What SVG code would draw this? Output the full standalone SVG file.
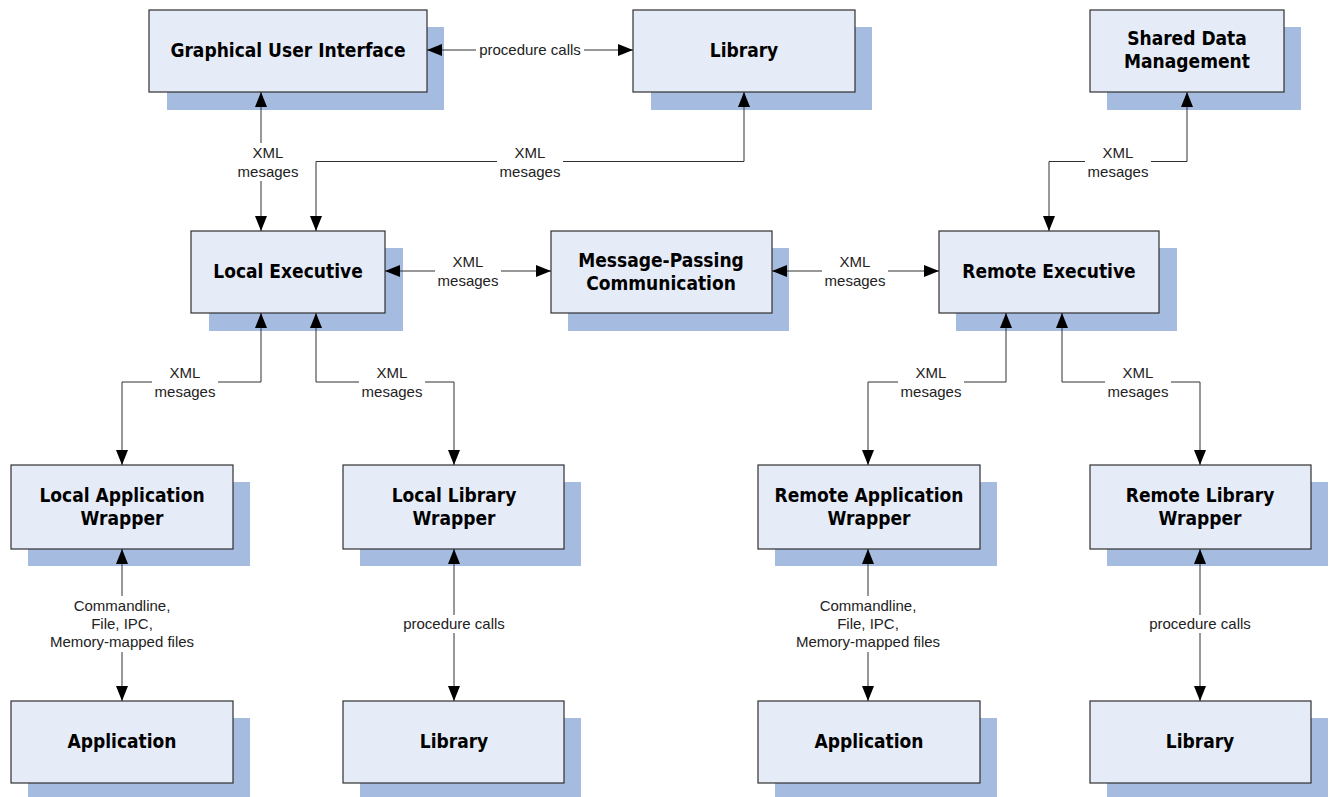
<svg xmlns="http://www.w3.org/2000/svg" width="1333" height="797" viewBox="0 0 1333 797">
<style>
.sh{fill:#A5BCE0;stroke:none}
.bx{fill:#E6ECF7;stroke:#303030;stroke-width:1.2}
.t{font-family:"DejaVu Sans Condensed","DejaVu Sans",sans-serif;font-stretch:condensed;font-weight:bold;font-size:19px;fill:#000;text-anchor:middle}
.c{fill:none;stroke:#303030;stroke-width:1}
.lb{font-family:"Liberation Sans",Arial,sans-serif;font-size:15px;fill:#222;text-anchor:middle}
.bg{fill:#fff;stroke:none}
</style>
<defs>
<marker id="ah" viewBox="0 0 15 12" refX="15" refY="6" markerWidth="15" markerHeight="12" markerUnits="userSpaceOnUse" orient="auto-start-reverse">
<path d="M0,0 L15,6 L0,12 z" fill="#000"/>
</marker>
</defs>
<rect width="1333" height="797" fill="#fff"/>

<g id="gui"><rect class="sh" x="167" y="27" width="277" height="83"/><rect class="bx" x="149" y="10" width="278" height="82"/><text class="t" x="288" y="57">Graphical User Interface</text></g>
<g id="library-top"><rect class="sh" x="651" y="27" width="221" height="83"/><rect class="bx" x="633" y="10" width="222" height="82"/><text class="t" x="744" y="57">Library</text></g>
<g id="shared-data"><rect class="sh" x="1107" y="27" width="194" height="83"/><rect class="bx" x="1090" y="10" width="194" height="82"/><text class="t" x="1187" y="45">Shared Data</text><text class="t" x="1187" y="68">Management</text></g>

<g id="local-exec"><rect class="sh" x="209" y="248" width="194" height="83"/><rect class="bx" x="191" y="231" width="194" height="82"/><text class="t" x="288" y="278">Local Executive</text></g>
<g id="mpc"><rect class="sh" x="568" y="248" width="221" height="83"/><rect class="bx" x="551" y="231" width="221" height="82"/><text class="t" x="661" y="267">Message-Passing</text><text class="t" x="661" y="290">Communication</text></g>
<g id="remote-exec"><rect class="sh" x="956" y="248" width="221" height="83"/><rect class="bx" x="939" y="231" width="220" height="82"/><text class="t" x="1049" y="278">Remote Executive</text></g>

<g id="local-app-wrapper"><rect class="sh" x="28" y="482" width="222" height="84"/><rect class="bx" x="11" y="465" width="222" height="84"/><text class="t" x="122" y="502">Local Application</text><text class="t" x="122" y="525">Wrapper</text></g>
<g id="local-lib-wrapper"><rect class="sh" x="360" y="482" width="221" height="84"/><rect class="bx" x="343" y="465" width="221" height="84"/><text class="t" x="454" y="502">Local Library</text><text class="t" x="454" y="525">Wrapper</text></g>
<g id="remote-app-wrapper"><rect class="sh" x="775" y="482" width="222" height="84"/><rect class="bx" x="758" y="465" width="222" height="84"/><text class="t" x="869" y="502">Remote Application</text><text class="t" x="869" y="525">Wrapper</text></g>
<g id="remote-lib-wrapper"><rect class="sh" x="1107" y="482" width="221" height="84"/><rect class="bx" x="1090" y="465" width="221" height="84"/><text class="t" x="1200" y="502">Remote Library</text><text class="t" x="1200" y="525">Wrapper</text></g>

<g id="application-local"><rect class="sh" x="28" y="718" width="222" height="84"/><rect class="bx" x="11" y="701" width="222" height="82"/><text class="t" x="122" y="748">Application</text></g>
<g id="library-local"><rect class="sh" x="360" y="718" width="221" height="84"/><rect class="bx" x="343" y="701" width="221" height="82"/><text class="t" x="454" y="748">Library</text></g>
<g id="application-remote"><rect class="sh" x="775" y="718" width="222" height="84"/><rect class="bx" x="758" y="701" width="222" height="82"/><text class="t" x="869" y="748">Application</text></g>
<g id="library-remote"><rect class="sh" x="1107" y="718" width="221" height="84"/><rect class="bx" x="1090" y="701" width="221" height="82"/><text class="t" x="1200" y="748">Library</text></g>

<g id="connectors">
<path class="c" d="M427,50 H633" marker-start="url(#ah)" marker-end="url(#ah)"/>
<path class="c" d="M261,92 V231" marker-start="url(#ah)" marker-end="url(#ah)"/>
<path class="c" d="M744,92 V161.5 H316 V231" marker-start="url(#ah)" marker-end="url(#ah)"/>
<path class="c" d="M1187,92 V161.5 H1049 V231" marker-start="url(#ah)" marker-end="url(#ah)"/>
<path class="c" d="M385,271 H551" marker-start="url(#ah)" marker-end="url(#ah)"/>
<path class="c" d="M772,271 H939" marker-start="url(#ah)" marker-end="url(#ah)"/>
<path class="c" d="M261,313 V382 H122 V465" marker-start="url(#ah)" marker-end="url(#ah)"/>
<path class="c" d="M316,313 V382 H454 V465" marker-start="url(#ah)" marker-end="url(#ah)"/>
<path class="c" d="M1006,313 V382 H868 V465" marker-start="url(#ah)" marker-end="url(#ah)"/>
<path class="c" d="M1062,313 V382 H1200 V465" marker-start="url(#ah)" marker-end="url(#ah)"/>
<path class="c" d="M122,549 V701" marker-start="url(#ah)" marker-end="url(#ah)"/>
<path class="c" d="M454,549 V701" marker-start="url(#ah)" marker-end="url(#ah)"/>
<path class="c" d="M868,549 V701" marker-start="url(#ah)" marker-end="url(#ah)"/>
<path class="c" d="M1200,549 V701" marker-start="url(#ah)" marker-end="url(#ah)"/>

<rect class="bg" x="476" y="41" width="108" height="18"/>
<text class="lb" x="530" y="55">procedure calls</text>

<rect class="bg" x="233" y="143" width="58" height="38"/>
<text class="lb" x="268" y="157.5">XML</text><text class="lb" x="268" y="176.5">mesages</text>

<rect class="bg" x="497" y="143" width="66" height="38"/>
<text class="lb" x="530" y="157.5">XML</text><text class="lb" x="530" y="176.5">mesages</text>

<rect class="bg" x="1085" y="143" width="66" height="38"/>
<text class="lb" x="1118" y="157.5">XML</text><text class="lb" x="1118" y="176.5">mesages</text>

<rect class="bg" x="435" y="252" width="66" height="38"/>
<text class="lb" x="468" y="267">XML</text><text class="lb" x="468" y="286">mesages</text>

<rect class="bg" x="822" y="252" width="66" height="38"/>
<text class="lb" x="855" y="267">XML</text><text class="lb" x="855" y="286">mesages</text>

<rect class="bg" x="152" y="363" width="66" height="38"/>
<text class="lb" x="185" y="378">XML</text><text class="lb" x="185" y="397">mesages</text>

<rect class="bg" x="359" y="363" width="66" height="38"/>
<text class="lb" x="392" y="378">XML</text><text class="lb" x="392" y="397">mesages</text>

<rect class="bg" x="898" y="363" width="66" height="38"/>
<text class="lb" x="931" y="378">XML</text><text class="lb" x="931" y="397">mesages</text>

<rect class="bg" x="1105" y="363" width="66" height="38"/>
<text class="lb" x="1138" y="378">XML</text><text class="lb" x="1138" y="397">mesages</text>

<rect class="bg" x="46" y="596" width="152" height="56"/>
<text class="lb" x="122" y="611">Commandline,</text><text class="lb" x="122" y="629">File, IPC,</text><text class="lb" x="122" y="647">Memory-mapped files</text>

<rect class="bg" x="400" y="615" width="108" height="18"/>
<text class="lb" x="454" y="629">procedure calls</text>

<rect class="bg" x="792" y="596" width="152" height="56"/>
<text class="lb" x="868" y="611">Commandline,</text><text class="lb" x="868" y="629">File, IPC,</text><text class="lb" x="868" y="647">Memory-mapped files</text>

<rect class="bg" x="1146" y="615" width="108" height="18"/>
<text class="lb" x="1200" y="629">procedure calls</text>
</g>
</svg>
